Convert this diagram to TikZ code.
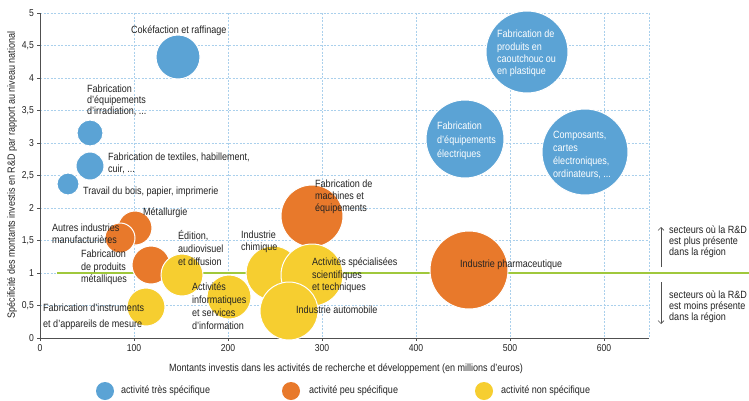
\documentclass[tikz,border=0pt]{standalone}
\usepackage{fontspec}
\setmainfont[FakeStretch=0.86]{Liberation Sans}
\usetikzlibrary{arrows.meta}
\definecolor{cblue}{RGB}{91,163,213}
\definecolor{corange}{RGB}{232,121,43}
\definecolor{cyellow}{RGB}{246,206,48}
\definecolor{cgreen}{RGB}{160,200,60}
\definecolor{cgrid}{RGB}{170,208,236}
\definecolor{ctext}{RGB}{35,35,35}
\definecolor{caxis}{RGB}{80,80,80}
\begin{document}
\begin{tikzpicture}[x=1pt,y=-1pt,
  bubble/.style={circle, draw=white, line width=1pt, inner sep=0pt, minimum size=#1},
  bb/.style={bubble=#1, fill=cblue},
  ob/.style={bubble=#1, fill=corange},
  yb/.style={bubble=#1, fill=cyellow},
  lbl/.style={font=\fontsize{10.5}{#1}\selectfont, text=ctext, inner sep=0pt, align=left, anchor=north west},
  wlbl/.style={lbl=#1, text=white},
  one/.style={font=\fontsize{10.5}{12}\selectfont, text=ctext, inner sep=0pt, anchor=west},
  gridline/.style={cgrid, line width=0.6pt, dash pattern=on 2pt off 1.5pt},
  axisline/.style={caxis, line width=0.8pt},
  tick/.style={font=\fontsize{10}{11}\selectfont, text=ctext, inner sep=0pt},
  greenline/.style={cgreen, line width=2.5pt},
  annarrow/.style={caxis, line width=0.6pt, -{Straight Barb[length=3pt,width=6pt]}},
]
\useasboundingbox[fill=white] (0,0) rectangle (749,400);
% grid
\foreach \v in {100,200,...,600} \draw[gridline] ({40+0.94*\v},13) -- ({40+0.94*\v},338);
\draw[gridline] (649,13) -- (649,338);
\foreach \k in {1,...,10} \draw[gridline] (40,{338-32.5*\k}) -- (649,{338-32.5*\k});
% axes
\draw[axisline] (40,13) -- (40,338) -- (649,338);
\foreach \k in {0,...,10} \draw[axisline] (37,{338-32.5*\k}) -- (40,{338-32.5*\k});
\foreach \v in {0,100,...,600} \draw[axisline] ({40+0.94*\v},338) -- ({40+0.94*\v},341);
\foreach \k/\t in {0/0,1/{0,5},2/1,3/{1,5},4/2,5/{2,5},6/3,7/{3,5},8/4,9/{4,5},10/5}
  \node[tick, anchor=east, name=yt\k] at (34,{338-32.5*\k}) {\t};
\foreach \v in {0,100,...,600}
  \node[tick, name=xt\v] at ({40+0.94*\v},348) {\v};
\node[font=\fontsize{10.5}{11}\selectfont, text=ctext, inner sep=0pt] (xlab) at (346,369)
  {Montants investis dans les activités de recherche et développement (en millions d'euros)};
\node[font=\fontsize{10.5}{11}\selectfont, text=ctext, inner sep=0pt, rotate=90] (ylab) at (12,175)
  {Spécificité des montants investis en R\&D par rapport au niveau national};
% green reference line
\coordinate (gA) at (57,273);
\coordinate (gB) at (749,273);
\draw[greenline] (gA) -- (gB);
% bubbles
\node[bb=44pt] (bcoke) at (178,57) {};
\node[bb=26pt] (birr) at (90,133) {};
\node[bb=28pt] (btex) at (90,166) {};
\node[bb=22pt] (bbois) at (68,184) {};
\node[bb=82pt] (bcaou) at (527,52) {};
\node[bb=78pt] (belec) at (465,139) {};
\node[bb=86pt] (bcomp) at (585,152) {};
\node[ob=34pt] (ometal) at (135,228) {};
\node[ob=30pt] (oautres) at (120,238) {};
\node[ob=38pt] (oprod) at (151,265) {};
\node[yb=42pt] (yedit) at (182,275) {};
\node[yb=38pt] (yinstr) at (146,307) {};
\node[yb=54pt] (ychim) at (273,273) {};
\node[yb=44pt] (yinfo) at (229,297) {};
\node[ob=62pt] (omach) at (312,216) {};
\node[yb=62pt] (yspec) at (312,275) {};
\node[yb=58pt] (yauto) at (289,311) {};
\node[ob=78pt] (opharma) at (469,270) {};
% labels
\node[one] (lcoke) at (131,31) {Cokéfaction et raffinage};
\node[lbl=11] (lirr) at (87,85) {Fabrication\\d'équipements\\d'irradiation, ...};
\node[lbl=11.5] (ltex) at (108,153) {Fabrication de textiles, habillement,\\cuir, ...};
\node[one] (lbois) at (83,192) {Travail du bois, papier, imprimerie};
\node[wlbl=12.3] (lcaou) at (497,30) {Fabrication de\\produits en\\caoutchouc ou\\en plastique};
\node[wlbl=14] (lelec) at (437,122) {Fabrication\\d'équipements\\électriques};
\node[wlbl=13] (lcomp) at (553,131) {Composants,\\cartes\\électroniques,\\ordinateurs, ...};
\node[one] (lmetal) at (143,213) {Métallurgie};
\node[lbl=11.5] (lautres) at (52,224) {Autres industries\\manufacturières};
\node[lbl=12.5] (lprod) at (81,250) {Fabrication\\de produits\\métalliques};
\node[lbl=13] (ledit) at (178,230) {Édition,\\audiovisuel\\et diffusion};
\node[lbl=16] (linstr) at (43,304) {Fabrication d'instruments\\et d'appareils de mesure};
\node[lbl=12.7] (linfo) at (192,283) {Activités\\informatiques\\et services\\d'information};
\node[lbl=12] (lchim) at (241,231) {Industrie\\chimique};
\node[lbl=12] (lmach) at (315,180) {Fabrication de\\machines et\\équipements};
\node[lbl=12.5] (lspec) at (312,258) {Activités spécialisées\\scientifiques\\et techniques};
\node[one] (lauto) at (296,310) {Industrie automobile};
\node[one] (lpharma) at (460,265) {Industrie pharmaceutique};
% right annotations
\coordinate (upS) at (661,267);
\coordinate (upE) at (661,227);
\draw[annarrow] (upS) -- (upE);
\coordinate (dnS) at (661,282);
\coordinate (dnE) at (661,324);
\draw[annarrow] (dnS) -- (dnE);
\node[lbl=11] (lplus) at (669,226) {secteurs où la R\&D\\est plus présente\\dans la région};
\node[lbl=11] (lmoins) at (669,291) {secteurs où la R\&D\\est moins présente\\dans la région};
% legend
\node[bubble=18pt, draw=none, fill=cblue] (legb) at (105,391) {};
\node[one] (legbt) at (121,391) {activité très spécifique};
\node[bubble=18pt, draw=none, fill=corange] (lego) at (291,391) {};
\node[one] (legot) at (309,391) {activité peu spécifique};
\node[bubble=18pt, draw=none, fill=cyellow] (legy) at (484,391) {};
\node[one] (legyt) at (501,391) {activité non spécifique};
\end{tikzpicture}
\end{document}
